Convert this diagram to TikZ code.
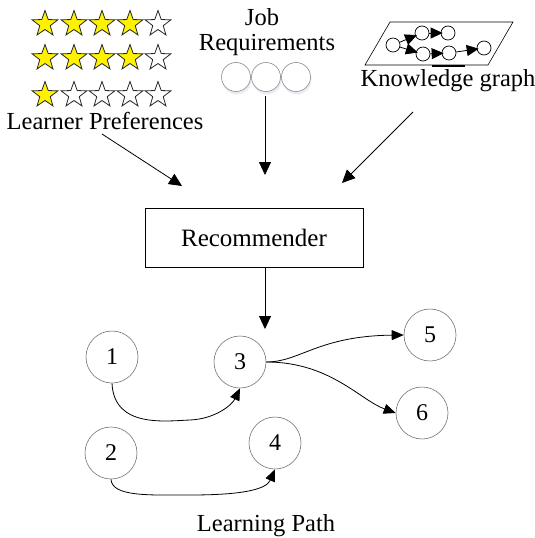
\documentclass[tikz,border=0pt]{standalone}
\usepackage{fontspec}
\setmainfont{Liberation Serif}
\usetikzlibrary{arrows.meta,shapes.geometric}
\begin{document}
\begin{tikzpicture}[x=1pt,y=-1pt,
  lbl/.style={font=\fontsize{24.5}{28}\selectfont, inner sep=0pt},
  fullstar/.style={star, star points=5, star point ratio=2.45, minimum size=27pt,
    inner sep=0pt, draw=black!85, fill=yellow, line width=0.8pt},
  emptystar/.style={fullstar, fill=white},
  jobdot/.style={circle, minimum size=29pt, inner sep=0pt, draw=black!45, line width=0.6pt, fill=white},
  kgdot/.style={circle, minimum size=14pt, inner sep=0pt, draw=black, line width=0.7pt, fill=white},
  pathnode/.style={circle, minimum size=52pt, inner sep=0pt, draw=black!55, line width=0.6pt,
    font=\fontsize{24}{26}\selectfont},
  bigarrow/.style={draw=black, line width=0.8pt, -{Triangle[length=13pt,width=12pt]}},
  kgarrow/.style={draw=black, line width=0.8pt, -{Triangle[length=12pt,width=11pt]}, shorten >=-2pt},
  patharrow/.style={draw=black, line width=0.8pt, -{Triangle[length=12pt,width=10pt]}},
]
\useasboundingbox (0,0) rectangle (535,538);

% rating stars
\foreach \row/\y/\n in {1/24/4, 2/58/4, 3/95/1}{
  \foreach \i/\x in {1/45, 2/74, 3/102, 4/130, 5/158}{
    \ifnum\i>\n
      \node[emptystar] (s\row\i) at (\x,\y) {};
    \else
      \node[fullstar] (s\row\i) at (\x,\y) {};
    \fi
  }
}
\node[lbl, anchor=base] (lp) at (105,129) {Learner Preferences};

% job requirements
\node[lbl, anchor=base] (job) at (262,25) {Job};
\node[lbl, anchor=base] (req) at (267,50) {Requirements};
\foreach \i/\x in {1/236, 2/266, 3/296}{
  \fill[blue!30!gray, opacity=0.12] (\x+1,80) circle (14.5pt);
  \node[jobdot] (j\i) at (\x,77) {};
}

% knowledge graph
\draw[black, line width=0.6pt] (390,22) -- (513,22) -- (488,65) -- (365,65) -- cycle;
\draw[black, line width=2.2pt] (432,66) -- (465,66);
\node[kgdot] (ka) at (393,45) {};
\node[kgdot] (kb) at (422,33) {};
\node[kgdot] (kc) at (448,33) {};
\node[kgdot] (kd) at (423,54) {};
\node[kgdot] (ke) at (449,53) {};
\node[kgdot] (kf) at (484,48) {};
\draw[kgarrow] (ka) -- (kb);
\draw[kgarrow] (kb) -- (kc);
\draw[kgarrow] (ka) -- (kd);
\draw[kgarrow] (kd) -- (ke);
\draw[kgarrow] (ke) -- (kf);
\node[lbl, anchor=base] (kg) at (448,86) {Knowledge graph};

% recommender
\node[draw=black, line width=0.7pt, minimum width=218pt, minimum height=59pt, inner sep=0pt,
  font=\fontsize{25}{28}\selectfont] (rec) at (254,237.5) {Recommender};

\coordinate (lpout) at (102,134);
\coordinate (lptip) at (182,186);
\coordinate (jrout) at (265,96);
\coordinate (jrtip) at (265,175);
\coordinate (kgout) at (413,112);
\coordinate (kgtip) at (342,183);
\coordinate (recout) at (265,267);
\coordinate (rectip) at (265,329);
\draw[bigarrow] (lpout) -- (lptip);
\draw[bigarrow] (jrout) -- (jrtip);
\draw[bigarrow] (kgout) -- (kgtip);
\draw[bigarrow] (recout) -- (rectip);

% learning path
\node[pathnode] (n1) at (112,357) {1};
\node[pathnode] (n2) at (111,453) {2};
\node[pathnode] (n3) at (240,362) {3};
\node[pathnode] (n4) at (275,443) {4};
\node[pathnode] (n5) at (430,335) {5};
\node[pathnode] (n6) at (422,413) {6};

\draw[patharrow] (n1.south) .. controls (114,428) and (165,421) .. (190,420)
  .. controls (215,419) and (232,405) .. (n3.south);
\draw[patharrow] (n2.south) .. controls (112,497) and (150,495) .. (190,495)
  .. controls (240,495) and (266,490) .. (n4.south);
\draw[patharrow] (n3.east) .. controls (300,362) and (318,336) .. (n5.west);
\draw[patharrow] (n3.east) .. controls (330,362) and (360,400) .. (n6.west);

\node[lbl, anchor=base] (lpath) at (266,531) {Learning Path};
\end{tikzpicture}
\end{document}
